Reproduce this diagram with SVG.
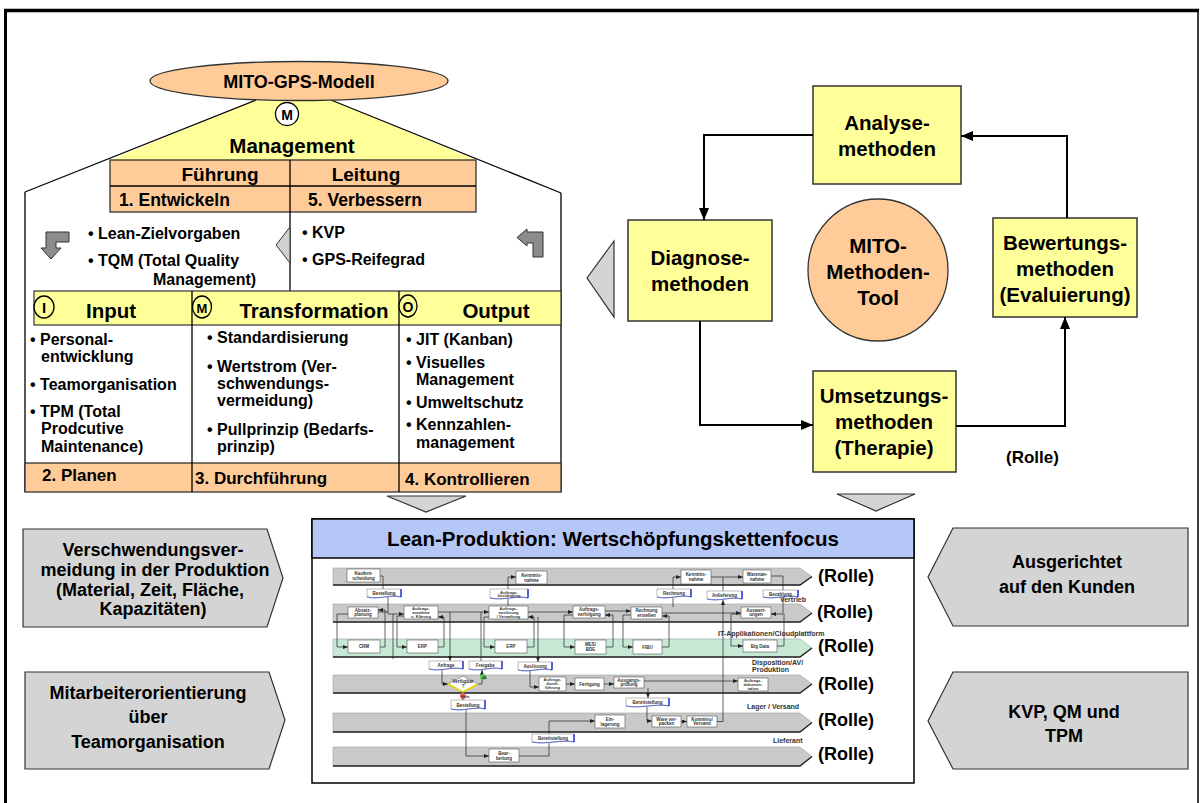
<svg xmlns="http://www.w3.org/2000/svg" width="1200" height="803" viewBox="0 0 1200 803">
<defs>
<style>
.t{font-family:"Liberation Sans",Arial,Helvetica,sans-serif;font-weight:bold;fill:#000}
.m{text-anchor:middle}
.yb{fill:#FFFF99;stroke:#333;stroke-width:1.5}
.ob{fill:#FFCC99;stroke:#333;stroke-width:1.3}
.gb{fill:#D4D4D4;stroke:#333;stroke-width:1.2}
.ln{fill:none;stroke:#000;stroke-width:1.3}
.cy{fill:none;stroke:#000;stroke-width:2}
.lane{fill:#C9C9C9;stroke:#A0A0A0;stroke-width:0.6}
.laneg{fill:#C6E9D5;stroke:#A0A0A0;stroke-width:0.6}
.lb{fill:none;stroke:#222;stroke-width:1.4}
.bx{fill:#fff;stroke:#555;stroke-width:0.6}
.doc{fill:#fff;stroke:#777;stroke-width:0.5}
.dw{fill:none;stroke:#3344D8;stroke-width:0.7}
.de{stroke:#1a2fd6;stroke-width:1.4}
.cn{fill:none;stroke:#222;stroke-width:0.7}
.tn{font-family:"Liberation Sans",Arial,sans-serif;font-weight:bold;font-size:4.5px;fill:#333;text-anchor:middle}
.tn4{font-size:4px}
.ll{font-family:"Liberation Sans",Arial,sans-serif;font-weight:bold;font-size:7px;fill:#333333}
.ro{font-size:18px}
</style>
<marker id="ar" markerUnits="userSpaceOnUse" markerWidth="12" markerHeight="10" refX="12" refY="5" orient="auto"><path d="M0,0 L12,5 L0,10 z" fill="#000"/></marker>
<marker id="ma" markerUnits="userSpaceOnUse" markerWidth="5" markerHeight="4" refX="5" refY="2" orient="auto"><path d="M0,0 L5,2 L0,4 z" fill="#222"/></marker>
</defs>
<rect x="0" y="0" width="1200" height="803" fill="#fff"/>
<g id="frame">
<line x1="4" y1="10.5" x2="1199" y2="10.5" stroke="#000" stroke-width="3.5"/>
<line x1="5.5" y1="9" x2="5.5" y2="803" stroke="#000" stroke-width="3"/>
<line x1="1198" y1="10" x2="1198" y2="803" stroke="#000" stroke-width="1.5"/>
</g>

<g id="management">
<polygon points="256,100 331,100 476,160 110,160" fill="#FFFF99"/>
<line class="ln" x1="256" y1="100" x2="25" y2="192"/>
<line class="ln" x1="331" y1="100" x2="561" y2="193"/>
<line class="ln" x1="25" y1="192" x2="25" y2="492"/>
<line class="ln" x1="561" y1="193" x2="561" y2="492"/>
<circle cx="287" cy="114" r="11.5" fill="#fff" stroke="#000" stroke-width="1.3"/>
<text class="t m" x="287" y="119.5" font-size="14">M</text>
<text class="t m" x="292" y="153" font-size="20.5">Management</text>
</g>
<g id="mito-gps-modell">
<ellipse class="ob" cx="299" cy="81" rx="149" ry="19.5"/>
<text class="t m" x="299" y="88" font-size="18">MITO-GPS-Modell</text>
</g>
<g id="fuehrung-leitung">
<rect class="ob" x="110" y="160" width="366" height="52"/>
<line class="ln" x1="110" y1="186" x2="476" y2="186"/>
<line class="ln" x1="290" y1="160" x2="290" y2="212"/>
<text class="t m" x="220" y="181" font-size="19">Führung</text>
<text class="t m" x="366" y="181" font-size="19">Leitung</text>
<text class="t" x="119" y="205.5" font-size="17.5">1. Entwickeln</text>
<text class="t" x="308" y="205.5" font-size="17.5">5. Verbessern</text>
<line class="ln" x1="290" y1="212" x2="290" y2="291"/>
</g>
<g id="ziele">
<polygon points="290,227 290,263 276,245" fill="#D0D0D0" stroke="#333" stroke-width="1"/>
<polygon points="69,232 46,232 46,248 41,248 51,259 61,248 56,248 56,242 69,242" fill="#8C8C8C" stroke="#333" stroke-width="1"/>
<polygon points="517,237.5 527,229 527,232 543,232 543,257 533,257 533,243 527,243 527,246" fill="#8C8C8C" stroke="#333" stroke-width="1"/>
<text class="t" x="88" y="239" font-size="16">• Lean-Zielvorgaben</text>
<text class="t" x="88" y="266" font-size="16">• TQM (Total Quality</text>
<text class="t" x="153" y="285" font-size="16">Management)</text>
<text class="t" x="302" y="238" font-size="16">• KVP</text>
<text class="t" x="302" y="265" font-size="16">• GPS-Reifegrad</text>
</g>
<g id="imo-table">
<rect x="34" y="291" width="527" height="34" fill="#FFFF99" stroke="#333" stroke-width="1.2"/>
<rect class="ob" x="25" y="463" width="536" height="29"/>
<line class="ln" x1="192" y1="291" x2="192" y2="492"/>
<line class="ln" x1="399" y1="291" x2="399" y2="492"/>
<ellipse cx="44" cy="307" rx="10" ry="11" fill="#FFFF99" stroke="#000" stroke-width="1.3"/>
<text class="t m" x="44" y="313" font-size="15">I</text>
<ellipse cx="202" cy="307" rx="9.5" ry="11" fill="#FFFF99" stroke="#000" stroke-width="1.3"/>
<text class="t m" x="202" y="312.5" font-size="13">M</text>
<ellipse cx="408" cy="306" rx="9" ry="11" fill="#FFFF99" stroke="#000" stroke-width="1.3"/>
<text class="t m" x="408" y="311.5" font-size="14">O</text>
<text class="t m" x="111" y="318" font-size="20.5">Input</text>
<text class="t m" x="314" y="318" font-size="20.5">Transformation</text>
<text class="t m" x="496" y="318" font-size="20.5">Output</text>
<text class="t" font-size="16"><tspan x="30" y="345">• Personal-</tspan><tspan x="41" y="362">entwicklung</tspan><tspan x="30" y="390">• Teamorganisation</tspan><tspan x="30" y="417">• TPM (Total</tspan><tspan x="41" y="434">Prodcutive</tspan><tspan x="41" y="452">Maintenance)</tspan></text>
<text class="t" font-size="16"><tspan x="207" y="343">• Standardisierung</tspan><tspan x="207" y="372">• Wertstrom (Ver-</tspan><tspan x="217" y="389">schwendungs-</tspan><tspan x="217" y="406">vermeidung)</tspan><tspan x="207" y="435">• Pullprinzip (Bedarfs-</tspan><tspan x="217" y="452">prinzip)</tspan></text>
<text class="t" font-size="16"><tspan x="406" y="345">• JIT (Kanban)</tspan><tspan x="406" y="368">• Visuelles</tspan><tspan x="416" y="385">Management</tspan><tspan x="406" y="408">• Umweltschutz</tspan><tspan x="406" y="430">• Kennzahlen-</tspan><tspan x="416" y="448">management</tspan></text>
<text class="t" x="42" y="481" font-size="17">2. Planen</text>
<text class="t" x="195" y="484" font-size="17">3. Durchführung</text>
<text class="t" x="405" y="485" font-size="17">4. Kontrollieren</text>
<polygon points="387,496 466,496 426,512" class="gb"/>
</g>

<g id="analyse"><rect class="yb" x="813" y="86" width="148" height="98"/>
<text class="t m" font-size="20.5"><tspan x="887" y="130">Analyse-</tspan><tspan x="887" y="156">methoden</tspan></text></g>
<g id="diagnose"><rect class="yb" x="628" y="220" width="144" height="101"/>
<text class="t m" font-size="20.5"><tspan x="700" y="265">Diagnose-</tspan><tspan x="700" y="291">methoden</tspan></text></g>
<g id="mito-tool"><ellipse class="ob" cx="878" cy="270" rx="70" ry="71"/>
<text class="t m" font-size="20.5"><tspan x="878" y="253">MITO-</tspan><tspan x="878" y="279">Methoden-</tspan><tspan x="878" y="305">Tool</tspan></text></g>
<g id="bewertung"><rect class="yb" x="993" y="218" width="144" height="99"/>
<text class="t m" font-size="20.5"><tspan x="1065" y="250">Bewertungs-</tspan><tspan x="1065" y="276">methoden</tspan><tspan x="1065" y="302">(Evaluierung)</tspan></text></g>
<g id="umsetzung"><rect class="yb" x="813" y="371" width="143" height="101"/>
<text class="t m" font-size="20.5"><tspan x="884" y="403">Umsetzungs-</tspan><tspan x="884" y="429">methoden</tspan><tspan x="884" y="455">(Therapie)</tspan></text></g>
<text class="t" x="1006" y="463" font-size="17">(Rolle)</text>
<polygon class="gb" points="614,241 614,317 587,278"/>
<polygon class="gb" points="837,494 915,494 876,511"/>

<g id="connectors">
<path class="cy" d="M813 135 H704 V220" marker-end="url(#ar)"/>
<path class="cy" d="M700 321 V425 H813" marker-end="url(#ar)"/>
<path class="cy" d="M956 426 H1065 V317" marker-end="url(#ar)"/>
<path class="cy" d="M1067 218 V136 H961" marker-end="url(#ar)"/>
</g>

<g id="verschwendung"><polygon class="gb" points="23,529 267,529 283,578 267,627 23,627"/>
<text class="t m" font-size="18"><tspan x="153" y="556">Verschwendungsver-</tspan><tspan x="155" y="576">meidung in der Produktion</tspan><tspan x="150" y="596">(Material, Zeit, Fläche,</tspan><tspan x="153" y="615">Kapazitäten)</tspan></text></g>
<g id="mitarbeiter"><polygon class="gb" points="25,672 269,672 285,720 269,769 25,769"/>
<text class="t m" font-size="18"><tspan x="148" y="699">Mitarbeiterorientierung</tspan><tspan x="148" y="723">über</tspan><tspan x="148" y="748">Teamorganisation</tspan></text></g>
<g id="kunden"><polygon class="gb" points="953,528 1188,528 1188,626 953,626 928,577"/>
<text class="t m" font-size="18"><tspan x="1067" y="568">Ausgerichtet</tspan><tspan x="1067" y="593">auf den Kunden</tspan></text></g>
<g id="kvp"><polygon class="gb" points="953,672 1188,672 1188,769 953,769 928,721"/>
<text class="t m" font-size="18"><tspan x="1064" y="718">KVP, QM und</tspan><tspan x="1064" y="742">TPM</tspan></text></g>

<g id="lean">
<rect x="312" y="519" width="602" height="264" fill="#fff" stroke="#000" stroke-width="1.5"/>
<rect x="312" y="519" width="602" height="39" fill="#B5C7F6" stroke="#000" stroke-width="1.5"/>
<text class="t m" x="613" y="546" font-size="20.5">Lean-Produktion: Wertschöpfungskettenfocus</text>

<polygon class="lane" points="333,568 800,568 812,576.5 800,585 333,585"/>
<polyline class="lb" points="333,585 800,585 812,576.5"/>
<polygon class="lane" points="333,604 800,604 812,613 800,622 333,622"/>
<polyline class="lb" points="333,622 800,622 812,613"/>
<polygon class="laneg" points="333,639 800,639 812,648 800,657 333,657"/>
<polyline class="lb" points="333,657 800,657 812,648"/>
<polygon class="lane" points="333,675 800,675 812,684 800,693 333,693"/>
<polyline class="lb" points="333,693 800,693 812,684"/>
<polygon class="lane" points="333,713 800,713 812,722.5 800,732 333,732"/>
<polyline class="lb" points="333,732 800,732 812,722.5"/>
<polygon class="lane" points="333,747 800,747 812,756.5 800,766 333,766"/>
<polyline class="lb" points="333,766 800,766 812,756.5"/>

<text class="t ro" x="818" y="582">(Rolle)</text>
<text class="t ro" x="817" y="618">(Rolle)</text>
<text class="t ro" x="818" y="652">(Rolle)</text>
<text class="t ro" x="818" y="690">(Rolle)</text>
<text class="t ro" x="818" y="726">(Rolle)</text>
<text class="t ro" x="818" y="760">(Rolle)</text>

<text class="ll" x="806" y="602" text-anchor="end">Vertrieb</text>
<text class="ll" x="718" y="636">IT-Applikationen/Cloudplattform</text>
<text class="ll" x="752" y="665">Disposition/AV/</text>
<text class="ll" x="752" y="672">Produktion</text>
<text class="ll" x="747" y="709">Lager / Versand</text>
<text class="ll" x="773" y="743">Lieferant</text>

<g id="lean-connectors">
<path class="cn" d="M380 576 H383 V589"/>
<path class="cn" d="M388 597 V614 H404" marker-end="url(#ma)"/>
<path class="cn" d="M378 612 H388"/>
<path class="cn" d="M348 614 H337 V647 H348" marker-end="url(#ma)"/>
<path class="cn" d="M380 647 H385 V610 H378" marker-end="url(#ma)"/>
<path class="cn" d="M393 614 V659"/>
<path class="cn" d="M404 616 H397 V647 H407" marker-end="url(#ma)"/>
<path class="cn" d="M438 647 H444 V617 H438" marker-end="url(#ma)"/>
<path class="cn" d="M438 612 H489" marker-end="url(#ma)"/>
<path class="cn" d="M450 612 V661" marker-end="url(#ma)"/>
<path class="cn" d="M489 617 H484 V647 H495" marker-end="url(#ma)"/>
<path class="cn" d="M527 647 H534 V617 H528" marker-end="url(#ma)"/>
<path class="cn" d="M508 606 V599"/>
<path class="cn" d="M508 589 V577 H516" marker-end="url(#ma)"/>
<path class="cn" d="M481 661 V612"/>
<path class="cn" d="M538 617 V662" marker-end="url(#ma)"/>
<path class="cn" d="M530 671 V687 H539" marker-end="url(#ma)"/>
<path class="cn" d="M566 684 H575" marker-end="url(#ma)"/>
<path class="cn" d="M604 684 H614" marker-end="url(#ma)"/>
<path class="cn" d="M644 681 H738" marker-end="url(#ma)"/>
<path class="cn" d="M648 688 V698" marker-end="url(#ma)"/>
<path class="cn" d="M647 707 V721 H652" marker-end="url(#ma)"/>
<path class="cn" d="M681 721.5 H687" marker-end="url(#ma)"/>
<path class="cn" d="M717 721.5 H723 V600" marker-end="url(#ma)"/>
<path class="cn" d="M442 670 V684 H448" marker-end="url(#ma)"/>
<path class="cn" d="M478 684 H482 V670" marker-end="url(#ma)"/>
<path class="cn" d="M463 692 V700" marker-end="url(#ma)"/>
<path class="cn" d="M466 710 V756 H489" marker-end="url(#ma)"/>
<path class="cn" d="M519 756 H549 V743"/>
<path class="cn" d="M549 734 V721 H595" marker-end="url(#ma)"/>
<path class="cn" d="M528 612 H573" marker-end="url(#ma)"/>
<path class="cn" d="M573 615 H564 V647 H575" marker-end="url(#ma)"/>
<path class="cn" d="M606 647 H613 V615 H605" marker-end="url(#ma)"/>
<path class="cn" d="M605 611 H631" marker-end="url(#ma)"/>
<path class="cn" d="M631 615 H623 V647 H633" marker-end="url(#ma)"/>
<path class="cn" d="M662 647 H669 V616 H662" marker-end="url(#ma)"/>
<path class="cn" d="M662 613 H741" marker-end="url(#ma)"/>
<path class="cn" d="M673 607 V598"/>
<path class="cn" d="M673 589 V577 H681" marker-end="url(#ma)"/>
<path class="cn" d="M711 577 H743" marker-end="url(#ma)"/>
<path class="cn" d="M723 591 V577"/>
<path class="cn" d="M771 576 H783 V590"/>
<path class="cn" d="M783 597 V614 H771" marker-end="url(#ma)"/>
<path class="cn" d="M741 614 H731 V646 H743" marker-end="url(#ma)"/>
<path class="cn" d="M777 646 H784 V614"/>
</g>

<g id="lean-boxes">
<rect class="bx" x="347" y="569" width="33" height="13"/><text class="tn"><tspan x="363.5" y="574.5">Kaufent-</tspan><tspan x="363.5" y="579.5">scheidung</tspan></text>
<rect class="bx" x="516" y="571" width="31" height="13"/><text class="tn"><tspan x="531.5" y="576.5">Kenntnis-</tspan><tspan x="531.5" y="581.5">nahme</tspan></text>
<rect class="bx" x="681" y="570" width="30" height="14"/><text class="tn"><tspan x="696" y="575.5">Kenntnis-</tspan><tspan x="696" y="580.5">nahme</tspan></text>
<rect class="bx" x="743" y="570" width="28" height="13"/><text class="tn"><tspan x="757" y="575.5">Warenan-</tspan><tspan x="757" y="580.5">nahme</tspan></text>
<rect class="bx" x="348" y="607" width="30" height="11"/><text class="tn"><tspan x="363" y="611.5">Absatz-</tspan><tspan x="363" y="616">planung</tspan></text>
<rect class="bx" x="404" y="606" width="34" height="13"/><text class="tn tn4"><tspan x="421" y="610">Auftrags-</tspan><tspan x="421" y="614">annahme</tspan><tspan x="421" y="618">u. Klärung</tspan></text>
<rect class="bx" x="489" y="606" width="39" height="13"/><text class="tn tn4"><tspan x="508.5" y="610">Auftrags-</tspan><tspan x="508.5" y="614">auslösung</tspan><tspan x="508.5" y="618">/ Verwaltung</tspan></text>
<rect class="bx" x="573" y="606" width="32" height="12"/><text class="tn"><tspan x="589" y="611">Auftrags-</tspan><tspan x="589" y="615.5">verfolgung</tspan></text>
<rect class="bx" x="631" y="607" width="31" height="12"/><text class="tn"><tspan x="646.5" y="612">Rechnung</tspan><tspan x="646.5" y="616.5">erstellen</tspan></text>
<rect class="bx" x="741" y="607" width="30" height="11"/><text class="tn"><tspan x="756" y="611.5">Auswert-</tspan><tspan x="756" y="616">ungen</tspan></text>
<rect class="bx" x="348" y="640" width="32" height="13"/><text class="tn" x="364" y="648">CRM</text>
<rect class="bx" x="407" y="640" width="31" height="13"/><text class="tn" x="422.5" y="648">ERP</text>
<rect class="bx" x="495" y="640" width="32" height="13"/><text class="tn" x="511" y="648">ERP</text>
<rect class="bx" x="575" y="640" width="31" height="14"/><text class="tn"><tspan x="590.5" y="645.5">MES/</tspan><tspan x="590.5" y="650.5">BDE</tspan></text>
<rect class="bx" x="633" y="640" width="29" height="14"/><text class="tn" x="647.5" y="648.5">FIBU</text>
<rect class="bx" x="743" y="640" width="34" height="12"/><text class="tn" x="760" y="647.5">Big Data</text>
<polygon points="448,684 463,676 478,684 463,692" fill="#fff" stroke="#666" stroke-width="0.6"/>
<polyline points="448,684 463,692 478,684" fill="none" stroke="#E6D800" stroke-width="1.5"/>
<text class="tn"><tspan x="463" y="683">Verfügbar</tspan><tspan x="463" y="687.5">?</tspan></text>
<circle cx="483" cy="677" r="3" fill="#5C5"/><text class="tn tn4" x="484" y="679" fill="#063">JA</text>
<circle cx="463" cy="696" r="3" fill="#E66"/><text class="tn tn4" x="465" y="697.5">Nein</text>
<rect class="bx" x="539" y="677" width="27" height="14"/><text class="tn tn4"><tspan x="552.5" y="681">Auftrags-</tspan><tspan x="552.5" y="685">durch-</tspan><tspan x="552.5" y="689">führung</tspan></text>
<rect class="bx" x="575" y="678" width="29" height="12"/><text class="tn" x="589.5" y="685.5">Fertigung</text>
<rect class="bx" x="614" y="677" width="30" height="11"/><text class="tn"><tspan x="629" y="681.5">Ausgangs-</tspan><tspan x="629" y="686">prüfung</tspan></text>
<rect class="bx" x="738" y="678" width="30" height="13"/><text class="tn tn4"><tspan x="753" y="682">Auftrags-</tspan><tspan x="753" y="686">dokumen-</tspan><tspan x="753" y="690">tation</tspan></text>
<rect class="bx" x="595" y="715" width="30" height="13"/><text class="tn"><tspan x="610" y="720.5">Ein-</tspan><tspan x="610" y="725.5">lagerung</tspan></text>
<rect class="bx" x="652" y="716" width="29" height="11"/><text class="tn"><tspan x="666.5" y="720.5">Ware ver-</tspan><tspan x="666.5" y="725">packen</tspan></text>
<rect class="bx" x="687" y="716" width="30" height="11"/><text class="tn"><tspan x="702" y="720.5">Kommiss/</tspan><tspan x="702" y="725">Versand</tspan></text>
<rect class="bx" x="489" y="749" width="30" height="13"/><text class="tn"><tspan x="504" y="754.5">Bear-</tspan><tspan x="504" y="759.5">beitung</tspan></text>
</g>

<g id="lean-docs">
<path class="doc" d="M367 589 H401 V597 C390.8 594 378.9 600 367 597 Z"/><path class="dw" d="M401 597 C390.8 594 378.9 600 367 597"/><line class="de" x1="401" y1="589" x2="401" y2="597"/><text class="tn" x="384" y="595">Bestellung</text>
<path class="doc" d="M490 589 H528 V598 C516.6 595 503.3 601 490 598 Z"/><path class="dw" d="M528 598 C516.6 595 503.3 601 490 598"/><line class="de" x1="528" y1="589" x2="528" y2="598"/><text class="tn tn4"><tspan x="509" y="593.5">Auftrags-</tspan><tspan x="509" y="597">bestätigung</tspan></text>
<path class="doc" d="M657 589 H691 V597 C680.8 594 668.9 600 657 597 Z"/><path class="dw" d="M691 597 C680.8 594 668.9 600 657 597"/><line class="de" x1="691" y1="589" x2="691" y2="597"/><text class="tn" x="674" y="595">Rechnung</text>
<path class="doc" d="M707 591 H742 V599 C731.5 596 719.3 602 707 599 Z"/><path class="dw" d="M742 599 C731.5 596 719.3 602 707 599"/><line class="de" x1="742" y1="591" x2="742" y2="599"/><text class="tn" x="724.5" y="597">Anlieferung</text>
<path class="doc" d="M763 590 H798 V597 C787.5 594 775.3 600 763 597 Z"/><path class="dw" d="M798 597 C787.5 594 775.3 600 763 597"/><line class="de" x1="798" y1="590" x2="798" y2="597"/><text class="tn" x="780.5" y="595.5">Bezahlung</text>
<path class="doc" d="M429 661 H463 V669 C452.8 666 440.9 672 429 669 Z"/><path class="dw" d="M463 669 C452.8 666 440.9 672 429 669"/><line class="de" x1="463" y1="661" x2="463" y2="669"/><text class="tn" x="446" y="667">Anfrage</text>
<path class="doc" d="M469 661 H502 V669 C492.1 666 480.6 672 469 669 Z"/><path class="dw" d="M502 669 C492.1 666 480.6 672 469 669"/><line class="de" x1="502" y1="661" x2="502" y2="669"/><text class="tn" x="485.5" y="667">Freigabe</text>
<path class="doc" d="M518 662 H552 V670 C541.8 667 529.9 673 518 670 Z"/><path class="dw" d="M552 670 C541.8 667 529.9 673 518 670"/><line class="de" x1="552" y1="662" x2="552" y2="670"/><text class="tn" x="535" y="668">Auslösung</text>
<path class="doc" d="M451 700 H485 V709 C474.8 706 462.9 712 451 709 Z"/><path class="dw" d="M485 709 C474.8 706 462.9 712 451 709"/><line class="de" x1="485" y1="700" x2="485" y2="709"/><text class="tn" x="468" y="706.5">Bestellung</text>
<path class="doc" d="M626 698 H669 V706 C656.1 703 641.1 709 626 706 Z"/><path class="dw" d="M669 706 C656.1 703 641.1 709 626 706"/><line class="de" x1="669" y1="698" x2="669" y2="706"/><text class="tn" x="647.5" y="704">Bereitstellung</text>
<path class="doc" d="M532 734 H574 V742 C561.4 739 546.7 745 532 742 Z"/><path class="dw" d="M574 742 C561.4 739 546.7 745 532 742"/><line class="de" x1="574" y1="734" x2="574" y2="742"/><text class="tn" x="553" y="740">Bereitstellung</text>
</g>
</g>
</svg>
